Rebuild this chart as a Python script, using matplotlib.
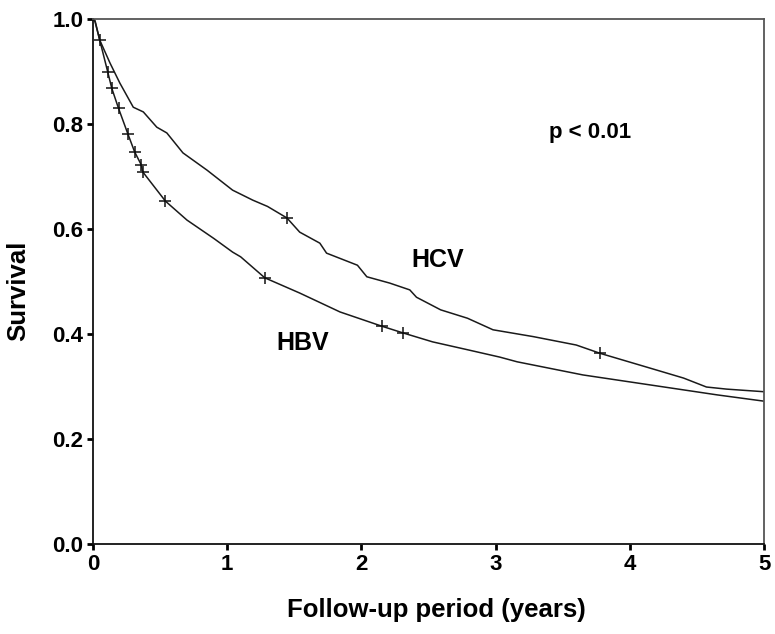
import matplotlib
matplotlib.use('Agg')
import matplotlib.pyplot as plt

plt.rcParams['font.family'] = ['Liberation Sans', 'DejaVu Sans']
plt.rcParams['font.weight'] = 'bold'

# Kaplan-Meier curves
hcv_t = [0.0, 0.015, 0.05, 0.127, 0.2, 0.3, 0.375, 0.475, 0.55, 0.67, 0.85, 1.04,
         1.19, 1.30, 1.445, 1.54, 1.69, 1.74, 1.97, 2.04, 2.21, 2.36, 2.41, 2.59,
         2.79, 2.98, 3.28, 3.6, 3.78, 4.15, 4.4, 4.57, 4.72, 5.0]
hcv_s = [1.0, 0.997, 0.96, 0.916, 0.878, 0.832, 0.823, 0.794, 0.783, 0.745, 0.712, 0.674,
         0.655, 0.643, 0.621, 0.594, 0.573, 0.554, 0.531, 0.509, 0.497, 0.484, 0.47, 0.446,
         0.43, 0.408, 0.395, 0.379, 0.363, 0.335, 0.316, 0.299, 0.295, 0.29]
hcv_cens_t = [1.445, 3.78]
hcv_cens_s = [0.621, 0.363]

hbv_t = [0.0, 0.015, 0.05, 0.11, 0.14, 0.19, 0.26, 0.31, 0.36, 0.37, 0.54, 0.70,
         0.9, 1.04, 1.1, 1.28, 1.54, 1.84, 2.15, 2.31, 2.53, 2.79, 3.03, 3.16,
         3.65, 4.15, 4.65, 5.0]
hbv_s = [1.0, 0.995, 0.96, 0.899, 0.868, 0.83, 0.781, 0.747, 0.722, 0.709, 0.653, 0.617,
         0.582, 0.556, 0.547, 0.507, 0.478, 0.442, 0.415, 0.402, 0.385, 0.37, 0.356, 0.347,
         0.322, 0.303, 0.284, 0.272]
hbv_cens_t = [0.05, 0.11, 0.14, 0.19, 0.26, 0.31, 0.36, 0.37, 0.54, 1.28, 2.15, 2.31]
hbv_cens_s = [0.96, 0.899, 0.868, 0.83, 0.781, 0.747, 0.722, 0.709, 0.653, 0.507, 0.415, 0.402]

x_ticks = [0, 1, 2, 3, 4, 5]
y_ticks = [0.0, 0.2, 0.4, 0.6, 0.8, 1.0]

fig = plt.figure(figsize=(7.75, 6.34), dpi=100)
ax = fig.add_axes([0.12, 0.142, 0.866, 0.828])

ax.plot(hcv_t, hcv_s, color='#1a1a1a', linewidth=1.1)
ax.plot(hbv_t, hbv_s, color='#1a1a1a', linewidth=1.1)
ax.plot(hcv_cens_t, hcv_cens_s, '+', color='#111111', markersize=9, markeredgewidth=1.1)
ax.plot(hbv_cens_t, hbv_cens_s, '+', color='#111111', markersize=9, markeredgewidth=1.1)

ax.text(2.57, 0.541, 'HCV', fontsize=18, fontweight='bold', ha='center', va='center')
ax.text(1.56, 0.383, 'HBV', fontsize=18, fontweight='bold', ha='center', va='center')
ax.text(3.70, 0.783, 'p < 0.01', fontsize=16, fontweight='bold', ha='center', va='center')

ax.set_xlim(0, 5)
ax.set_ylim(0, 1.0)
ax.set_xticks(x_ticks)
ax.set_yticks(y_ticks)
ax.set_xticklabels([str(v) for v in x_ticks])
ax.set_yticklabels([f'{v:.1f}' for v in y_ticks])
ax.tick_params(axis='both', direction='out', length=4, width=2, labelsize=16, pad=3)
for lab in ax.get_xticklabels() + ax.get_yticklabels():
    lab.set_fontweight('bold')

for side in ['left', 'bottom']:
    ax.spines[side].set_color('#111111')
    ax.spines[side].set_linewidth(1.3)
for side in ['top', 'right']:
    ax.spines[side].set_color('#555555')
    ax.spines[side].set_linewidth(1.3)

ax.set_xlabel('Follow-up period (years)', fontsize=18.5, fontweight='bold')
ax.set_ylabel('Survival', fontsize=18.5, fontweight='bold')
ax.xaxis.set_label_coords(0.511, -0.103)
ax.yaxis.set_label_coords(-0.094, 0.482)

fig.savefig('out.png', dpi=100)
